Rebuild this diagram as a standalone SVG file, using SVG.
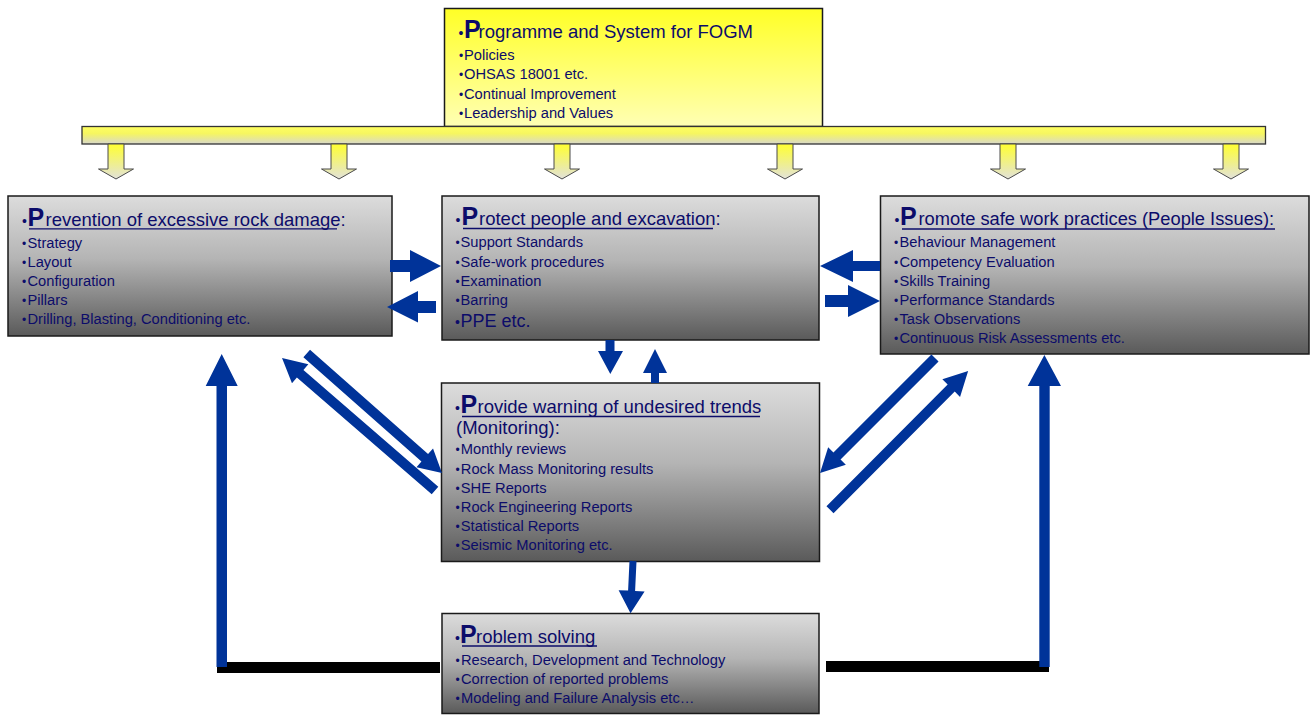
<svg xmlns="http://www.w3.org/2000/svg" xmlns:xlink="http://www.w3.org/1999/xlink" width="1311" height="715" viewBox="0 0 1311 715">
<defs>
<linearGradient id="gGrey" x1="0" y1="0" x2="0" y2="1">
<stop offset="0" stop-color="#dcdcdc"/>
<stop offset="0.45" stop-color="#b4b4b4"/>
<stop offset="1" stop-color="#5a5a5a"/>
</linearGradient>
<linearGradient id="gTop" x1="0" y1="0" x2="0" y2="1">
<stop offset="0" stop-color="#ffff26"/>
<stop offset="1" stop-color="#ffffb4"/>
</linearGradient>
<linearGradient id="gBar" x1="0" y1="0" x2="0" y2="1">
<stop offset="0" stop-color="#ffff60"/>
<stop offset="0.4" stop-color="#f6f660"/>
<stop offset="1" stop-color="#d8d8cc"/>
</linearGradient>
<linearGradient id="gYArrow" x1="0" y1="0" x2="0" y2="1">
<stop offset="0" stop-color="#ffff30"/>
<stop offset="1" stop-color="#e2e2da"/>
</linearGradient>
<path id="ya" d="M-8,144 V169 H-17.5 L0,179 L17.5,169 H8 V144 Z" fill="url(#gYArrow)" stroke="#4a4a4a" stroke-width="1"/>
</defs>
<style>
.box{fill:url(#gGrey);stroke:#1a1a1a;stroke-width:1.5}
.t{font-family:"Liberation Sans",Arial,Helvetica,sans-serif;fill:#0c0c6a}
.ttl{font-size:18.5px}
.P{font-size:25px;font-weight:bold}
.it{font-size:14.7px}
.bu{font-size:12px}
.bt{font-size:14px}
.ul{stroke:#0c0c6a;stroke-width:1.3}
.blue{fill:#003399}
.bk{fill:#000000}
</style>

<g id="node-fogm">
<rect x="444.5" y="8.5" width="378" height="118" fill="url(#gTop)" stroke="#1a1a1a" stroke-width="1.5"/>
<text class="t" y="38.3"><tspan class="bt" x="458.5">•</tspan><tspan class="P" x="464">P</tspan><tspan class="ttl" x="478.5">rogramme and System for FOGM</tspan></text>
<text class="t it" y="60"><tspan class="bu" x="459">•</tspan><tspan x="464">Policies</tspan></text>
<text class="t it" y="79.3"><tspan class="bu" x="459">•</tspan><tspan x="464">OHSAS 18001 etc.</tspan></text>
<text class="t it" y="98.6"><tspan class="bu" x="459">•</tspan><tspan x="464">Continual Improvement</tspan></text>
<text class="t it" y="117.8"><tspan class="bu" x="459">•</tspan><tspan x="464">Leadership and Values</tspan></text>
</g>

<g id="node-bar">
<rect x="82" y="126.5" width="1183.5" height="17.5" fill="url(#gBar)" stroke="#333333" stroke-width="1.3"/>
</g>

<g id="node-prevention">
<rect class="box" x="8" y="196" width="384" height="140"/>
<text class="t" y="226"><tspan class="bt" x="22">•</tspan><tspan class="P" x="27.5">P</tspan><tspan class="ttl" x="45.5">revention of excessive rock damage:</tspan></text>
<line class="ul" x1="29" y1="228.8" x2="337" y2="228.8"/>
<text class="t it" y="247.8"><tspan class="bu" x="22">•</tspan><tspan x="27.5">Strategy</tspan></text>
<text class="t it" y="267"><tspan class="bu" x="22">•</tspan><tspan x="27.5">Layout</tspan></text>
<text class="t it" y="286.2"><tspan class="bu" x="22">•</tspan><tspan x="27.5">Configuration</tspan></text>
<text class="t it" y="305.4"><tspan class="bu" x="22">•</tspan><tspan x="27.5">Pillars</tspan></text>
<text class="t it" y="324.4"><tspan class="bu" x="22">•</tspan><tspan x="27.5">Drilling, Blasting, Conditioning etc.</tspan></text>
</g>

<g id="node-protect">
<rect class="box" x="442" y="196" width="377" height="144"/>
<text class="t" y="225"><tspan class="bt" x="455.5">•</tspan><tspan class="P" x="461.5">P</tspan><tspan class="ttl" x="479">rotect people and excavation:</tspan></text>
<line class="ul" x1="463" y1="228.5" x2="713" y2="228.5"/>
<text class="t it" y="247.3"><tspan class="bu" x="455.5">•</tspan><tspan x="460.5">Support Standards</tspan></text>
<text class="t it" y="266.5"><tspan class="bu" x="455.5">•</tspan><tspan x="460.5">Safe-work procedures</tspan></text>
<text class="t it" y="285.7"><tspan class="bu" x="455.5">•</tspan><tspan x="460.5">Examination</tspan></text>
<text class="t it" y="304.9"><tspan class="bu" x="455.5">•</tspan><tspan x="460.5">Barring</tspan></text>
<text class="t" y="327.3"><tspan class="bt" x="455">•</tspan><tspan x="460.5" style="font-size:18px">PPE etc.</tspan></text>
</g>

<g id="node-promote">
<rect class="box" x="880.5" y="196" width="428.5" height="158"/>
<text class="t" y="225"><tspan class="bt" x="894.5">•</tspan><tspan class="P" x="900">P</tspan><tspan class="ttl" x="918.5" style="font-size:18.3px">romote safe work practices (People Issues):</tspan></text>
<line class="ul" x1="902" y1="229" x2="1275" y2="229"/>
<text class="t it" y="247.3"><tspan class="bu" x="894">•</tspan><tspan x="899.5">Behaviour Management</tspan></text>
<text class="t it" y="266.5"><tspan class="bu" x="894">•</tspan><tspan x="899.5">Competency Evaluation</tspan></text>
<text class="t it" y="285.7"><tspan class="bu" x="894">•</tspan><tspan x="899.5">Skills Training</tspan></text>
<text class="t it" y="304.9"><tspan class="bu" x="894">•</tspan><tspan x="899.5">Performance Standards</tspan></text>
<text class="t it" y="324.1"><tspan class="bu" x="894">•</tspan><tspan x="899.5">Task Observations</tspan></text>
<text class="t it" y="343.3"><tspan class="bu" x="894">•</tspan><tspan x="899.5">Continuous Risk Assessments etc.</tspan></text>
</g>

<g id="node-warning">
<rect class="box" x="441.5" y="383" width="378" height="178.5"/>
<text class="t" y="412.7"><tspan class="bt" x="455">•</tspan><tspan class="P" x="460.5">P</tspan><tspan class="ttl" x="477.5">rovide warning of undesired trends</tspan></text>
<line class="ul" x1="462" y1="416.5" x2="760" y2="416.5"/>
<text class="t ttl" x="456" y="434.3">(Monitoring):</text>
<text class="t it" y="454.3"><tspan class="bu" x="455.5">•</tspan><tspan x="460.8">Monthly reviews</tspan></text>
<text class="t it" y="473.5"><tspan class="bu" x="455.5">•</tspan><tspan x="460.8">Rock Mass Monitoring results</tspan></text>
<text class="t it" y="492.7"><tspan class="bu" x="455.5">•</tspan><tspan x="460.8">SHE Reports</tspan></text>
<text class="t it" y="511.9"><tspan class="bu" x="455.5">•</tspan><tspan x="460.8">Rock Engineering Reports</tspan></text>
<text class="t it" y="531.1"><tspan class="bu" x="455.5">•</tspan><tspan x="460.8">Statistical Reports</tspan></text>
<text class="t it" y="550.3"><tspan class="bu" x="455.5">•</tspan><tspan x="460.8">Seismic Monitoring etc.</tspan></text>
</g>

<g id="node-problem">
<rect class="box" x="442" y="613.5" width="377" height="100"/>
<text class="t" y="642.7"><tspan class="bt" x="455">•</tspan><tspan class="P" x="460">P</tspan><tspan class="ttl" x="476">roblem solving</tspan></text>
<line class="ul" x1="462" y1="646" x2="597" y2="646"/>
<text class="t it" y="665"><tspan class="bu" x="455.5">•</tspan><tspan x="461">Research, Development and Technology</tspan></text>
<text class="t it" y="684"><tspan class="bu" x="455.5">•</tspan><tspan x="461">Correction of reported problems</tspan></text>
<text class="t it" y="702.7"><tspan class="bu" x="455.5">•</tspan><tspan x="461">Modeling and Failure Analysis etc…</tspan></text>
</g>

<g id="connectors">
<use xlink:href="#ya" href="#ya" x="116"/>
<use xlink:href="#ya" href="#ya" x="339"/>
<use xlink:href="#ya" href="#ya" x="562"/>
<use xlink:href="#ya" href="#ya" x="785"/>
<use xlink:href="#ya" href="#ya" x="1008"/>
<use xlink:href="#ya" href="#ya" x="1231"/>

<rect class="bk" x="217" y="662" width="223" height="11"/>
<rect class="bk" x="826" y="661" width="223" height="11"/>

<polygon class="blue" points="216.5,667 216.5,386 205.7,386 221.7,354 237.7,386 227,386 227,667"/>
<polygon class="blue" points="1039.3,667 1039.3,386 1027.7,386 1044.4,355 1061,386 1049.7,386 1049.7,667"/>

<polygon class="blue" points="390,260 410,260 410,250 441,266 410,282 410,272 390,272"/>
<polygon class="blue" points="436,301 418,301 418,291 387,307 418,322.5 418,313 436,313"/>
<polygon class="blue" points="880,261 853,261 853,250 820,266 853,282 853,271 880,271"/>
<polygon class="blue" points="825,295 848,295 848,285 880,301 848,317 848,307 825,307"/>

<polygon class="blue" points="605.5,340 614.5,340 614.5,351 623,351 610.3,374 598,351 605.5,351"/>
<polygon class="blue" points="651,383 651,373 643,373 655,349 667,373 659,373 659,383"/>

<polygon class="blue" transform="translate(306.7,353.5) rotate(41.45)" points="0,-5 157.5,-5 157.5,-12.5 180.5,0 157.5,12.5 157.5,5 0,5"/>
<polygon class="blue" transform="translate(435,490.5) rotate(220.9)" points="0,-5 178.4,-5 178.4,-12.5 202.4,0 178.4,12.5 178.4,5 0,5"/>
<polygon class="blue" transform="translate(935,358) rotate(135)" points="0,-5 138.6,-5 138.6,-12.5 162.6,0 138.6,12.5 138.6,5 0,5"/>
<polygon class="blue" transform="translate(830,509.7) rotate(-45.1)" points="0,-5 171.7,-5 171.7,-12.5 195.7,0 171.7,12.5 171.7,5 0,5"/>

<polygon class="blue" transform="translate(633,561) rotate(92.7)" points="0,-3.5 29.8,-3.5 29.8,-13 52.4,0 29.8,13 29.8,3.5 0,3.5"/>
</g>
</svg>
